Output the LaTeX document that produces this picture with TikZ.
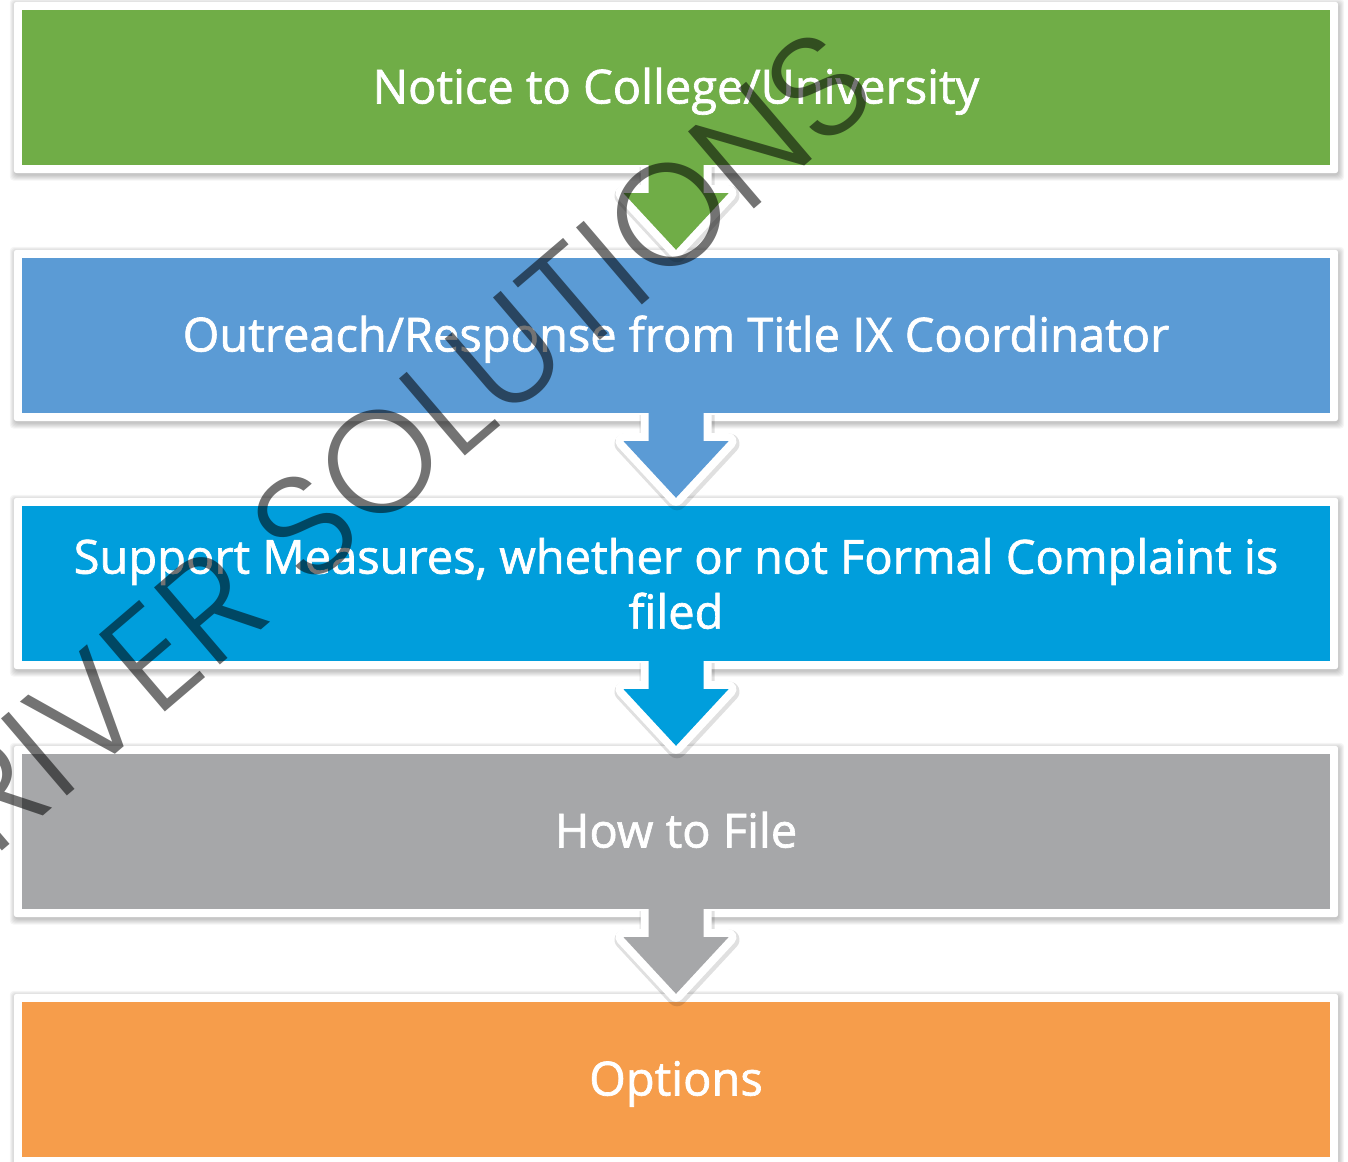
\documentclass[tikz,border=0pt]{standalone}
\usepackage{fontspec}
\usetikzlibrary{calc}
\newfontfamily\lab{Open Sans}[FakeBold=1.4]
\newfontfamily\wmfont{Poppins Light}
\definecolor{cGreen}{RGB}{112,173,71}
\definecolor{cBlue}{RGB}{91,155,213}
\definecolor{cCyan}{RGB}{0,158,220}
\definecolor{cGray}{RGB}{166,167,169}
\definecolor{cOrange}{RGB}{246,157,75}
\pgfdeclarelayer{bg}
\pgfsetlayers{bg,main}
\tikzset{
  stepbox/.style={rectangle, inner sep=0pt, minimum width=1308pt, minimum height=155pt,
    text=white, align=center, font=\lab\fontsize{47}{55}\selectfont},
  oneline/.style={text height=36pt, text depth=4pt},
  wmark/.style={inner sep=0pt, text=black, text opacity=0.55, font=\wmfont\fontsize{145}{145}\selectfont}
}
\newcommand{\boxback}[1]{%
  \begin{pgfonlayer}{bg}
    \foreach \k in {0,...,5}{
      \fill[black, opacity=0.04, rounded corners=4pt]
        ($(#1.south west)+(-8-\k+1,8+\k+2.5)$) rectangle ($(#1.north east)+(8+\k+1,-8-\k+2)$);
    }
    \fill[white, rounded corners=3pt] ($(#1.south west)+(-8,8)$) rectangle ($(#1.north east)+(8,-8)$);
  \end{pgfonlayer}}
\newcommand{\flowarrow}[3]{%
  % #1 source node, #2 target node, #3 colour
  \coordinate (#1top) at (#1.south);
  \coordinate (#1tip) at ($(#2.north)+(0,-8)$);
  \draw[black, opacity=0.12, line width=20pt, line join=round]
    ($(#1top)+(-27.5+1,2)$) -- ($(#1top)+(-27.5+1,28+2.5)$) -- ($(#1top)+(-52.5+1,28+2.5)$)
    -- ($(#1tip)+(1,2.5)$) -- ($(#1top)+(52.5+1,28+2.5)$) -- ($(#1top)+(27.5+1,28+2.5)$) -- ($(#1top)+(27.5+1,2)$);
  \draw[white, line width=16pt, line join=round]
    ($(#1top)+(-27.5,0)$) -- ($(#1top)+(-27.5,28)$) -- ($(#1top)+(-52.5,28)$)
    -- (#1tip) -- ($(#1top)+(52.5,28)$) -- ($(#1top)+(27.5,28)$) -- ($(#1top)+(27.5,0)$);
  \fill[#3]
    ($(#1top)+(-27.5,-1)$) -- ($(#1top)+(-27.5,28)$) -- ($(#1top)+(-52.5,28)$)
    -- (#1tip) -- ($(#1top)+(52.5,28)$) -- ($(#1top)+(27.5,28)$) -- ($(#1top)+(27.5,-1)$) -- cycle;}
\begin{document}
\begin{tikzpicture}[x=1pt,y=-1pt]
\useasboundingbox (0,0) rectangle (1348,1161);
\begin{pgfonlayer}{bg}
\fill[white] (0,0) rectangle (1348,1161);
\end{pgfonlayer}
\node[stepbox, oneline, fill=cGreen] (b1) at (676,87.5) {Notice to College/University};
\node[stepbox, oneline, fill=cBlue] (b2) at (676,335.5) {Outreach/Response from Title IX Coordinator};
\node[stepbox, fill=cCyan] (b3) at (676,583.5) {Support Measures, whether or not Formal Complaint is\\filed};
\node[stepbox, oneline, fill=cGray] (b4) at (676,831.5) {How to File};
\node[stepbox, oneline, fill=cOrange] (b5) at (676,1079.5) {Options};
\boxback{b1}\boxback{b2}\boxback{b3}\boxback{b4}\boxback{b5}
\flowarrow{b1}{b2}{cGreen}
\flowarrow{b2}{b3}{cBlue}
\flowarrow{b3}{b4}{cCyan}
\flowarrow{b4}{b5}{cGray}
\node[wmark, rotate=40.5, anchor=base east] (wm) at (884,98) {RIVER SOLUTIONS};
\end{tikzpicture}
\end{document}
